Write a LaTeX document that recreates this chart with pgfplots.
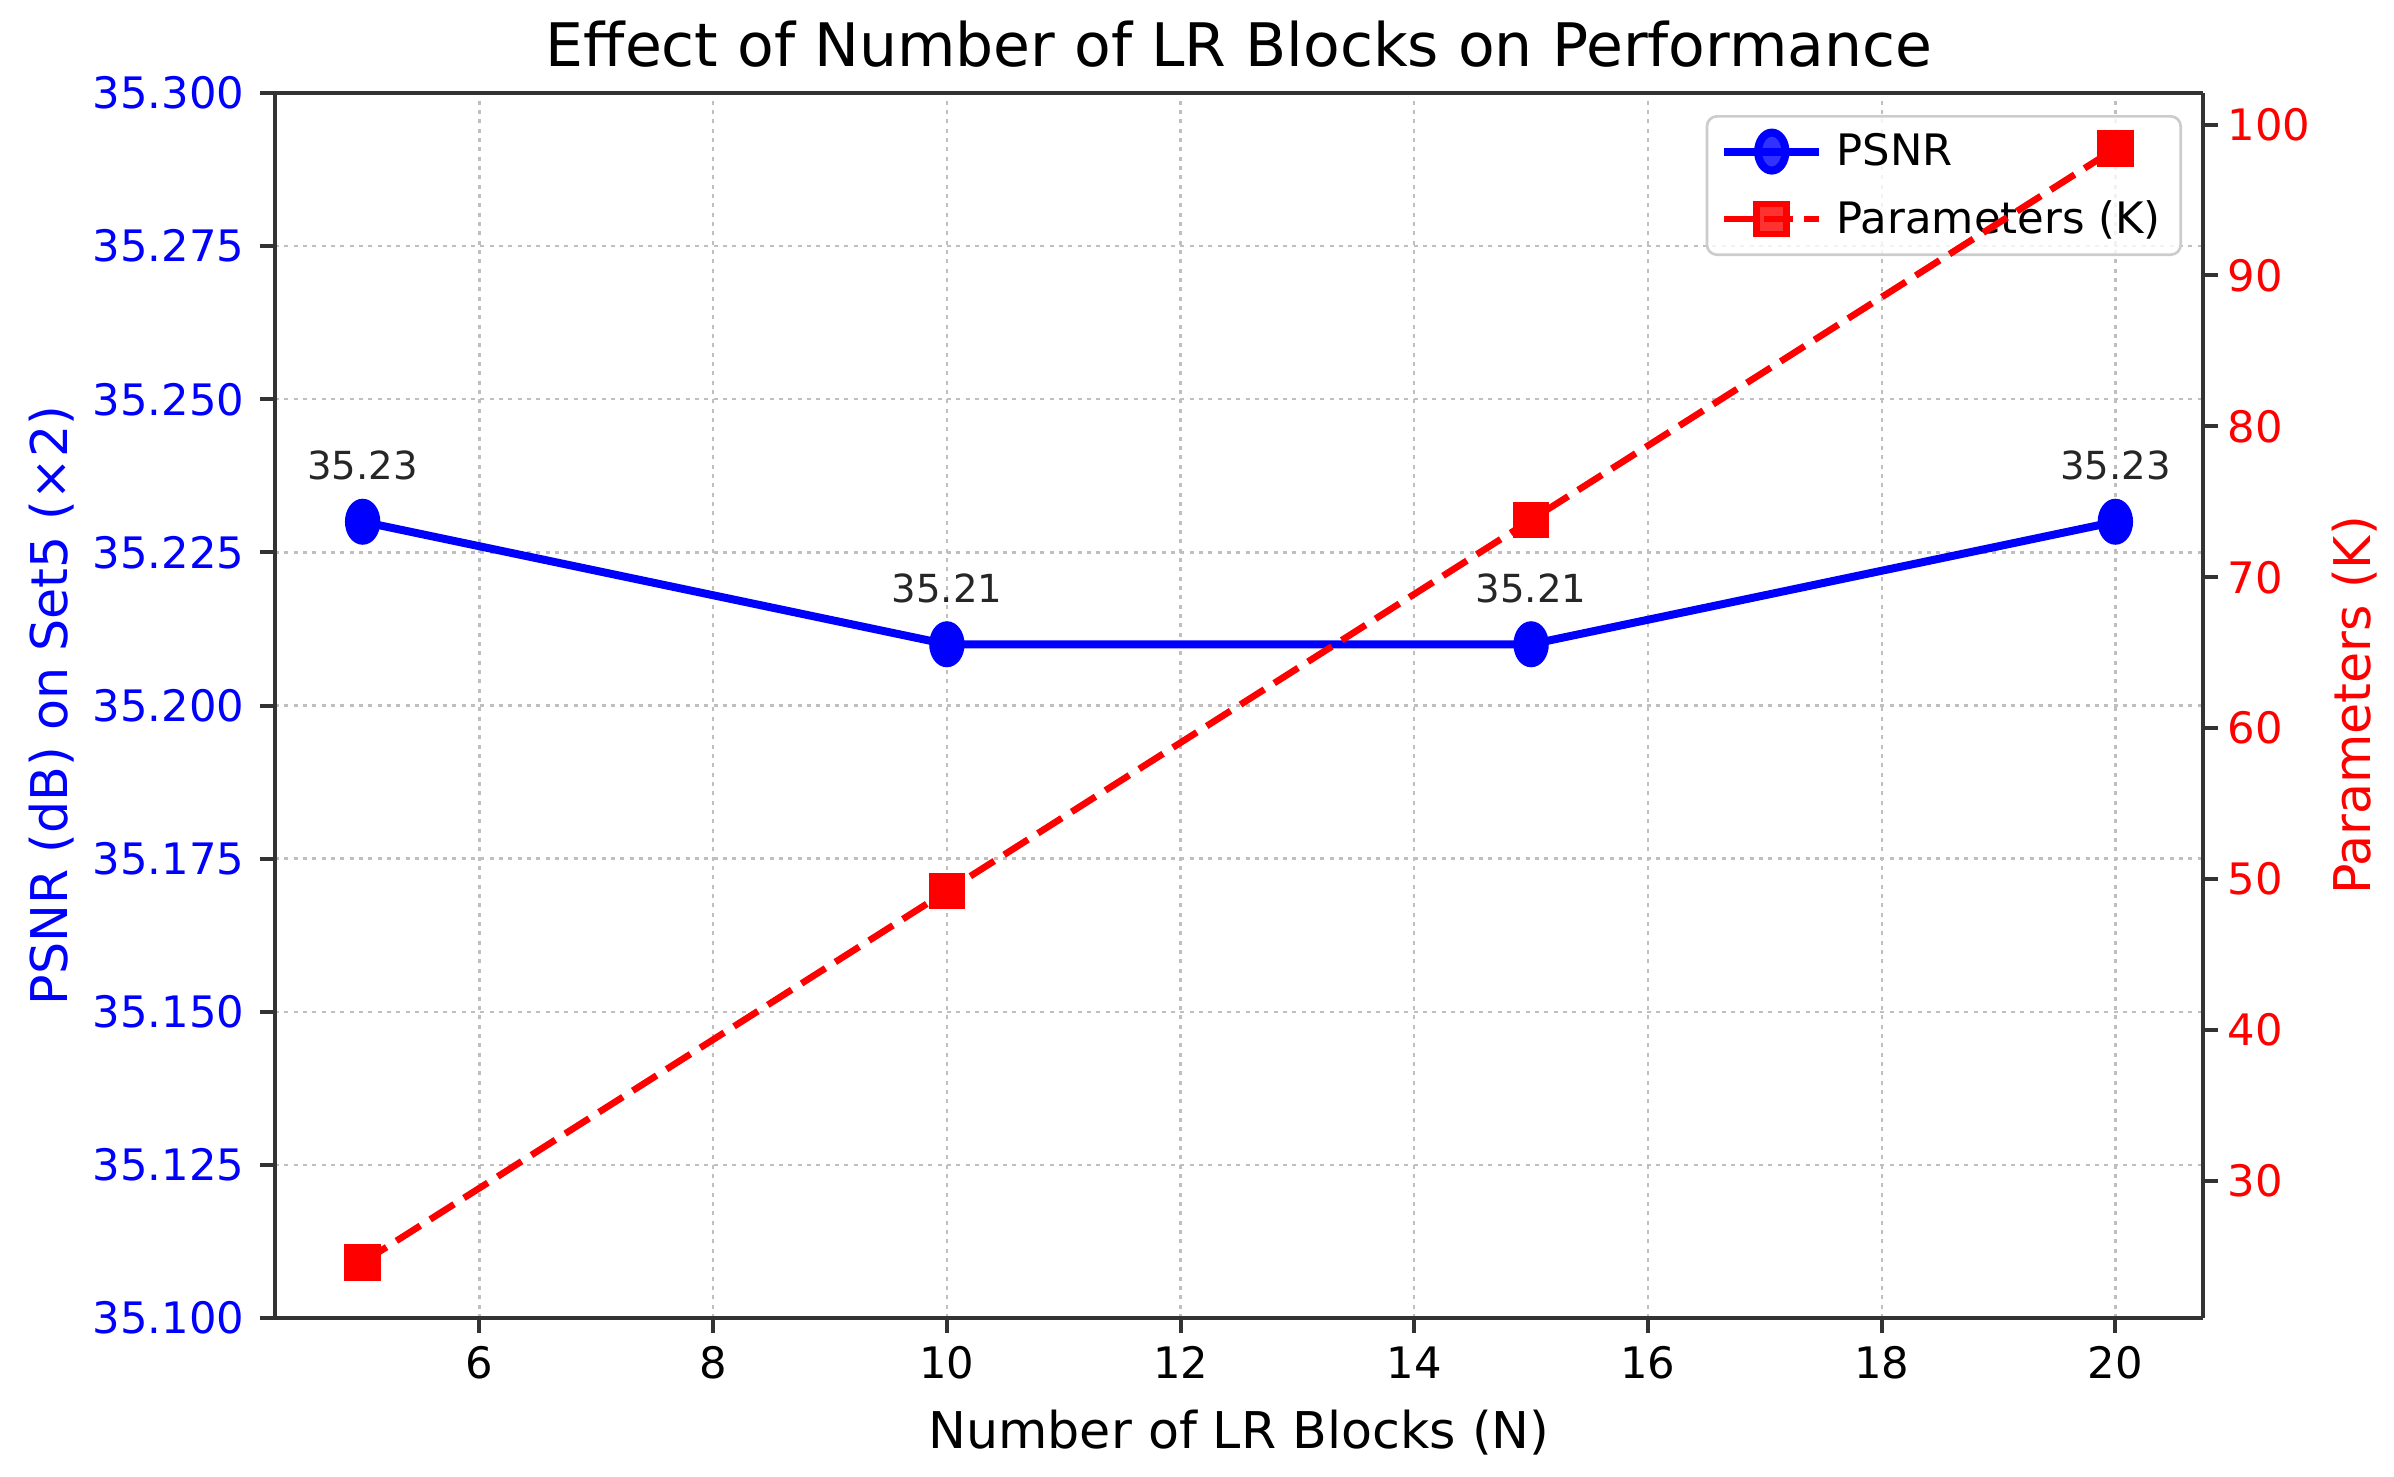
\documentclass[border=0pt]{standalone}
\usepackage{fontspec}
\setmainfont{DejaVu Sans}
\usepackage{pgfplots}
\pgfplotsset{compat=1.18}
\definecolor{pblue}{RGB}{0,0,255}
\definecolor{pred}{RGB}{255,0,0}
\begin{document}
\begin{tikzpicture}
\pgfplotsset{
  every axis/.append style={
    scale only axis, width=578.4pt, height=367.5pt,
    xmin=4.25, xmax=20.75,
    tick align=outside, major tick length=4.5pt,
    axis line style={black!80, line width=1.2pt},
    major tick style={black!80, line width=1.2pt},
    /pgf/number format/assume math mode=true,
    tick label style={font=\fontsize{13}{13}\selectfont, inner sep=0pt},
  },
}
\begin{axis}[
  ymin=35.1, ymax=35.3,
  ytick={35.100,35.125,35.150,35.175,35.200,35.225,35.250,35.275,35.300},
  xtick={6,8,10,12,14,16,18,20},
  axis y line*=left,
  xtick pos=left,
  grid=major,
  grid style={black!25, line width=0.7pt, dash pattern=on 1.2pt off 1.6pt},
  yticklabel style={text=pblue, anchor=east, xshift=-4.5pt,
    /pgf/number format/fixed, /pgf/number format/fixed zerofill, /pgf/number format/precision=3},
  xticklabel style={anchor=base, yshift=-13.7pt},
  xlabel={Number of LR Blocks (N)},
  xlabel style={at={(axis description cs:0.5,0)}, anchor=base, yshift=-39pt, font=\fontsize{15.2}{15.2}\selectfont},
  ylabel={PSNR (dB) on Set5 (×2)},
  ylabel style={at={([xshift=-62.2pt]axis description cs:0,0.5)}, anchor=base, rotate=0, text=pblue, font=\fontsize{15.2}{15.2}\selectfont},
  title={Effect of Number of LR Blocks on Performance},
  title style={at={(axis description cs:0.5,1)}, anchor=base, yshift=2pt, font=\fontsize{18}{18}\selectfont},
  legend style={at={([xshift=-6.3pt,yshift=-6.6pt]axis description cs:1,1)}, anchor=north east,
    draw=black!20, line width=0.8pt, rounded corners=3pt, fill=white, fill opacity=0.8, text opacity=1,
    font=\fontsize{13}{13}\selectfont, inner xsep=4pt, inner ysep=3pt,
    row sep=5pt, nodes={inner sep=2pt}},
  legend cell align=left,
  legend image code/.code={
    \draw[mark repeat=2, mark phase=2] plot coordinates {(-2pt,0pt) (12.25pt,0pt) (26.5pt,0pt)};
    \path (28.5pt,0pt);
  },
]
\addplot[pblue, line width=2.4pt, mark=*, mark size=5.7pt, mark options={solid, xscale=0.72},
  nodes near coords, point meta=explicit symbolic,
  nodes near coords style={anchor=center, yshift=16.8pt, text=black!85, inner sep=0pt, font=\fontsize{11.6}{11.6}\selectfont}]
  coordinates {(5,35.23)[35.23] (10,35.21)[35.21] (15,35.21)[35.21] (20,35.23)[35.23]};
\addlegendentry{PSNR}
\addlegendimage{pred, line width=2pt, dash pattern=on 8.5pt off 3.5pt, mark=square*, mark size=4.5pt, mark options={solid}}
\addlegendentry{Parameters (K)}
\coordinate (SW) at (rel axis cs:0,0);
\coordinate (NE) at (rel axis cs:1,1);
\end{axis}
\begin{axis}[
  ymin=20.91, ymax=102.09,
  ytick={30,40,50,60,70,80,90,100},
  axis y line*=right,
  axis x line=none,
  yticklabel style={text=pred, anchor=west, xshift=2.7pt},
  ylabel={Parameters (K)},
  ylabel style={at={([xshift=50.1pt]axis description cs:1,0.5)}, anchor=base, rotate=0, text=pred, font=\fontsize{15.2}{15.2}\selectfont},
]
\addplot[pred, line width=2pt, dash pattern=on 8.5pt off 3.5pt, mark=square*, mark size=4.5pt, mark options={solid}]
  coordinates {(5,24.6) (10,49.2) (15,73.8) (20,98.4)};
\end{axis}
\pgfresetboundingbox
\path[use as bounding box] ([xshift=-82.5pt,yshift=-47.4pt]SW) rectangle ([xshift=57.3pt,yshift=27.9pt]NE);
\end{tikzpicture}
\end{document}
